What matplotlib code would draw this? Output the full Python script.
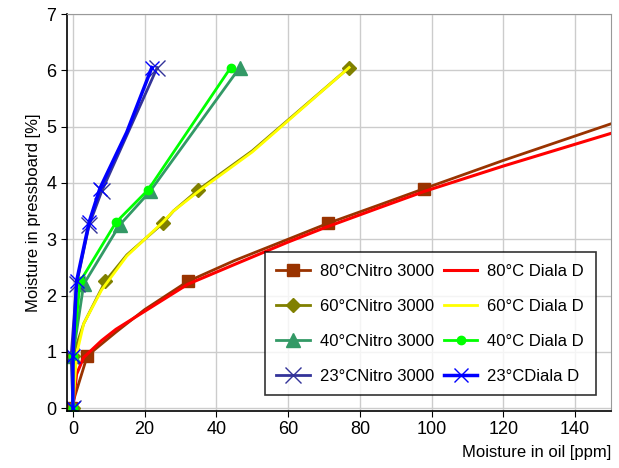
import numpy as np
import matplotlib
matplotlib.use("Agg")
from matplotlib import pyplot as plt

plt.rcParams['font.family'] = ['Liberation Sans', 'DejaVu Sans']

# 80 C
x80_nitro = [-0.5, 4, 12, 20, 32, 45, 60, 71, 85, 98, 120, 150]
y80_nitro = [0.0, 0.93, 1.35, 1.75, 2.25, 2.62, 3.0, 3.28, 3.6, 3.9, 4.4, 5.05]
x80_diala = [0, 1, 3, 8, 12, 17, 32, 45, 60, 70, 85, 98, 120, 150]
y80_diala = [0.0, 0.6, 0.9, 1.2, 1.4, 1.6, 2.2, 2.55, 2.95, 3.2, 3.55, 3.85, 4.3, 4.88]
# 60 C
x60_nitro = [0, 0, 3, 9, 15, 25, 28, 35, 50, 77]
y60_nitro = [0.0, 0.93, 1.5, 2.25, 2.72, 3.28, 3.5, 3.88, 4.57, 6.05]
x60_diala = [0, 1, 3, 8, 15, 25, 28, 36, 50, 77]
y60_diala = [0.0, 0.95, 1.5, 2.1, 2.7, 3.3, 3.5, 3.9, 4.55, 6.05]
# 40 C
x40_nitro = [0, 0, 3, 13, 21.5, 46.5]
y40_nitro = [0.0, 0.93, 2.2, 3.25, 3.85, 6.05]
x40_diala = [0, 0, 2, 12, 21, 44]
y40_diala = [0.0, 0.93, 2.25, 3.3, 3.88, 6.05]
# 23 C
x23_nitro = [0, -0.5, 1, 4.5, 8, 23.5]
y23_nitro = [0.0, 0.93, 2.2, 3.25, 3.85, 6.05]
x23_diala = [0, 0, 1, 4.5, 7.5, 15, 22]
y23_diala = [0.0, 0.93, 2.25, 3.3, 3.9, 4.9, 6.05]

fig, ax = plt.subplots(figsize=(6.19, 4.68), dpi=100)
fig.subplots_adjust(left=0.108, right=0.987, top=0.97, bottom=0.122)

h1, = ax.plot(x80_nitro, y80_nitro, color="#993300", lw=2, marker="s", ms=9,
              markevery=[0, 1, 4, 7, 9], label="80°CNitro 3000")
h2, = ax.plot(x60_nitro, y60_nitro, color="#808000", lw=2, marker="D", ms=7,
              markevery=[0, 1, 3, 5, 7, 9], label="60°CNitro 3000")
h3, = ax.plot(x40_nitro, y40_nitro, color="#339966", lw=2, marker="^", ms=10,
              label="40°CNitro 3000")
h4, = ax.plot(x23_nitro, y23_nitro, color="#333399", lw=2, marker="x", ms=11, mew=1,
              label="23°CNitro 3000")
h5, = ax.plot(x80_diala, y80_diala, color="#FF0000", lw=2.2, label="80°C Diala D")
h6, = ax.plot(x60_diala, y60_diala, color="#FFFF00", lw=2, label="60°C Diala D")
h7, = ax.plot(x40_diala, y40_diala, color="#00FF00", lw=2, marker="o", ms=6,
              label="40°C Diala D")
h8, = ax.plot(x23_diala, y23_diala, color="#0000FF", lw=2.5, marker="x", ms=10, mew=1,
              markevery=[0, 1, 2, 3, 4, 6], label="23°CDiala D")

ax.set_xlim(-1.7, 150)
ax.set_ylim(-0.05, 7)
ax.set_xticks(range(0, 141, 20))
ax.set_yticks(range(0, 8))
ax.grid(True, color="#cccccc", lw=1)
ax.set_axisbelow(True)
ax.tick_params(labelsize=13, direction="out", length=4)
for s in ["top", "right"]:
    ax.spines[s].set_color("#999999")
ax.spines["left"].set_linewidth(1.2)
ax.spines["bottom"].set_linewidth(1.2)

ax.set_ylabel("Moisture in pressboard [%]", fontsize=12)
ax.set_xlabel("Moisture in oil [ppm]", fontsize=12)
ax.xaxis.set_label_coords(1.0, -0.085)
ax.xaxis.label.set_horizontalalignment("right")

leg = ax.legend(handles=[h1, h2, h3, h4, h5, h6, h7, h8], ncol=2, loc="lower right",
                bbox_to_anchor=(0.987, 0.018), fontsize=12, frameon=True, fancybox=False,
                edgecolor="black", labelspacing=1.2, columnspacing=0.6,
                handlelength=2.0, handletextpad=0.6, borderpad=0.7)
leg.get_frame().set_linewidth(1.2)

fig.savefig("out.png", dpi=100)
